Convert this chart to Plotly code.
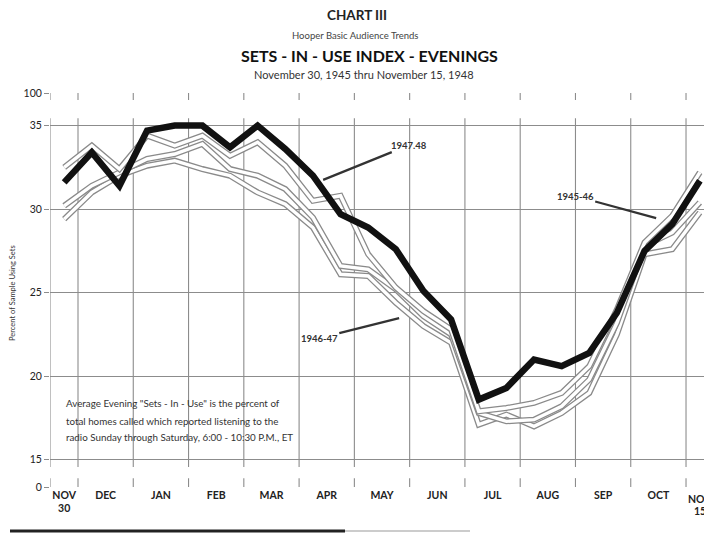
import plotly.graph_objects as go

# ---------------- data ----------------
# semi-monthly Hooper reports, Nov 30 -> Nov 15
periods = ["Nov 30", "Dec 1", "Dec 2", "Jan 1", "Jan 2", "Feb 1", "Feb 2", "Mar 1",
           "Mar 2", "Apr 1", "Apr 2", "May 1", "May 2", "Jun 1", "Jun 2", "Jul 1",
           "Jul 2", "Aug 1", "Aug 2", "Sep 1", "Sep 2", "Oct 1", "Oct 2", "Nov 15"]

black_series = [31.6, 33.4, 31.4, 34.7, 35.0, 35.0, 33.7, 35.0, 33.6, 32.0, 29.7, 28.9,
                27.6, 25.1, 23.4, 18.6, 19.3, 21.0, 20.6, 21.4, 23.8, 27.5, 29.1, 31.7]
gray_top = [32.5, 33.8, 32.4, 34.4, 33.8, 34.4, 33.2, 34.0, 32.6, 30.5, 30.8, 27.3,
            25.3, 23.9, 22.8, 17.9, 18.1, 18.4, 19.0, 20.6, 24.0, 28.0, 29.6, 32.2]
gray_mid = [30.2, 31.4, 32.2, 33.0, 33.3, 33.9, 32.4, 32.0, 31.2, 29.5, 26.6, 26.4,
            25.2, 23.6, 22.5, 17.8, 17.3, 17.4, 18.2, 19.8, 23.2, 27.8, 28.6, 30.4]
gray_low = [29.4, 31.0, 32.0, 32.6, 32.9, 32.4, 32.0, 31.0, 30.3, 28.9, 26.1, 26.0,
            24.4, 23.0, 22.0, 17.1, 17.7, 17.0, 17.8, 19.0, 22.5, 27.3, 27.6, 29.8]

month_labels = ["NOV<br>30", "DEC", "JAN", "FEB", "MAR", "APR", "MAY", "JUN",
                "JUL", "AUG", "SEP", "OCT"]
month_label_pos = [0, 1.5, 3.5, 5.5, 7.5, 9.5, 11.5, 13.5, 15.5, 17.5, 19.5, 21.5]
last_label_lines = ["NOV", "15"]
last_label_pos = 23
month_boundaries = [0.5, 2.5, 4.5, 6.5, 8.5, 10.5, 12.5, 14.5, 16.5, 18.5, 20.5, 22.5]

# broken y axis: "0" and "100" are drawn just outside the 15-35 band
y_tick_text = ["0", "15", "20", "25", "30", "35", "100"]
y_tick_pos = [13.37, 15, 20, 25, 30, 35, 36.95]

x = list(range(len(periods)))

# ---------------- figure ----------------
fig = go.Figure()

GRAY = "#8a8a8a"
for ys, name in [(gray_low, "low"), (gray_mid, "mid"), (gray_top, "1945-46")]:
    fig.add_trace(go.Scatter(x=x, y=ys, mode="lines", line=dict(color=GRAY, width=6),
                             hoverinfo="skip", showlegend=False))
    fig.add_trace(go.Scatter(x=x, y=ys, mode="lines", line=dict(color="white", width=3.4),
                             text=periods, showlegend=False, name=name))

fig.add_trace(go.Scatter(x=x, y=black_series, mode="lines",
                         line=dict(color="#111111", width=6.5),
                         text=periods, showlegend=False, name="1947-48"))

# page offset: the browser body has an 8px margin
OFF = 8
PL, PR, PT, PB = 50, 712, 93, 487   # plot area in page pixels

X0, X1 = -0.513, 23.44
Y0, Y1 = 13.37, 36.95
GRID = "#8c8c8c"


def py(px):
    return (PB - px) / (PB - PT)


def pxx(px):
    return (px - PL) / (PR - PL)


shapes = []
for xb in [X0] + month_boundaries:
    shapes.append(dict(type="line", xref="x", yref="y", x0=xb, x1=xb, y0=14.56, y1=35.44,
                       line=dict(color=GRID, width=1.1), layer="below"))
    shapes.append(dict(type="line", xref="x", yref="y", x0=xb, x1=xb, y0=Y0, y1=13.9,
                       line=dict(color=GRID, width=1.1), layer="below"))
    shapes.append(dict(type="line", xref="x", yref="y", x0=xb, x1=xb, y0=36.53, y1=Y1,
                       line=dict(color=GRID, width=1.1), layer="below"))
# scan artefact bar at the bottom of the page
shapes.append(dict(type="line", xref="paper", yref="paper",
                   x0=pxx(10), x1=pxx(345), y0=py(531), y1=py(531),
                   line=dict(color="#222222", width=3)))
shapes.append(dict(type="line", xref="paper", yref="paper",
                   x0=pxx(345), x1=pxx(470), y0=py(531), y1=py(531),
                   line=dict(color="#cccccc", width=2)))

FONT = "Lato"
annotations = [
    dict(text="<b>CHART III</b>", x=pxx(357), y=py(15), font=dict(size=13.5, color="#222")),
    dict(text="Hooper Basic Audience Trends", x=pxx(355), y=py(36), font=dict(size=9.5, color="#444")),
    dict(text="<b>SETS - IN - USE INDEX - EVENINGS</b>", x=pxx(369), y=py(55), font=dict(size=16, color="#111")),
    dict(text="November 30, 1945 thru November 15, 1948", x=pxx(364), y=py(75), font=dict(size=11, color="#333")),
    dict(text="Percent of Sample Using Sets", x=pxx(12), y=py(293), textangle=-90,
         font=dict(size=7.5, color="#333")),
    dict(text='Average Evening "Sets - In - Use" is the percent of', x=pxx(64), y=py(403),
         xanchor="left", font=dict(size=9.8, color="#333")),
    dict(text="total homes called which reported listening to the", x=pxx(64), y=py(421),
         xanchor="left", font=dict(size=9.8, color="#333")),
    dict(text="radio Sunday through Saturday, 6:00 - 10:30 P.M., ET", x=pxx(64), y=py(437),
         xanchor="left", font=dict(size=9.8, color="#333")),
]
for a in annotations:
    a.setdefault("xref", "paper")
    a.setdefault("yref", "paper")
    a.setdefault("showarrow", False)
    a.setdefault("xanchor", "center")
    a["yanchor"] = "middle"
    a["font"]["family"] = FONT

# last month label, partly cut by the right page edge as in the original
for txt, ypx in zip(last_label_lines, [499, 511]):
    annotations.append(dict(text=txt, x=last_label_pos, xref="x", y=py(ypx), yref="paper",
                            yanchor="middle", xanchor="center", showarrow=False,
                            font=dict(family=FONT, size=10.5, color="#222", weight="bold")))

arrow_labels = [
    ("1947.48", 12.48, 33.83, 9.37, 31.75),
    ("1945-46", 18.49, 30.78, 21.42, 29.46),
    ("1946-47", 9.23, 22.28, 12.12, 23.48),
]
for txt, tx, ty, hx, hy in arrow_labels:
    annotations.append(dict(text="<b>" + txt + "</b>", x=hx, y=hy, ax=tx, ay=ty,
                            xref="x", yref="y", axref="x", ayref="y",
                            showarrow=True, arrowhead=0, arrowwidth=2.2, arrowcolor="#333",
                            font=dict(family=FONT, size=9.5, color="#333")))

fig.update_layout(
    width=712 - OFF, height=534 - OFF,
    margin=dict(l=PL - OFF, r=0, t=PT - OFF, b=534 - PB, pad=0),
    paper_bgcolor="white", plot_bgcolor="white",
    shapes=shapes, annotations=annotations,
    xaxis=dict(range=[X0, X1], showgrid=False, zeroline=False, showline=False,
               tickmode="array", tickvals=month_label_pos, ticktext=month_labels,
               ticks="", tickfont=dict(family=FONT, size=10.5, color="#222", weight="bold"),
               fixedrange=True),
    yaxis=dict(range=[Y0, Y1], showgrid=True, gridcolor=GRID, gridwidth=1.2,
               zeroline=False, showline=False,
               tickmode="array", tickvals=y_tick_pos, ticktext=y_tick_text,
               ticks="outside", ticklen=5, tickcolor=GRID,
               tickfont=dict(family=FONT, size=10.5, color="#222"), fixedrange=True),
)

fig.write_html("out.html")
